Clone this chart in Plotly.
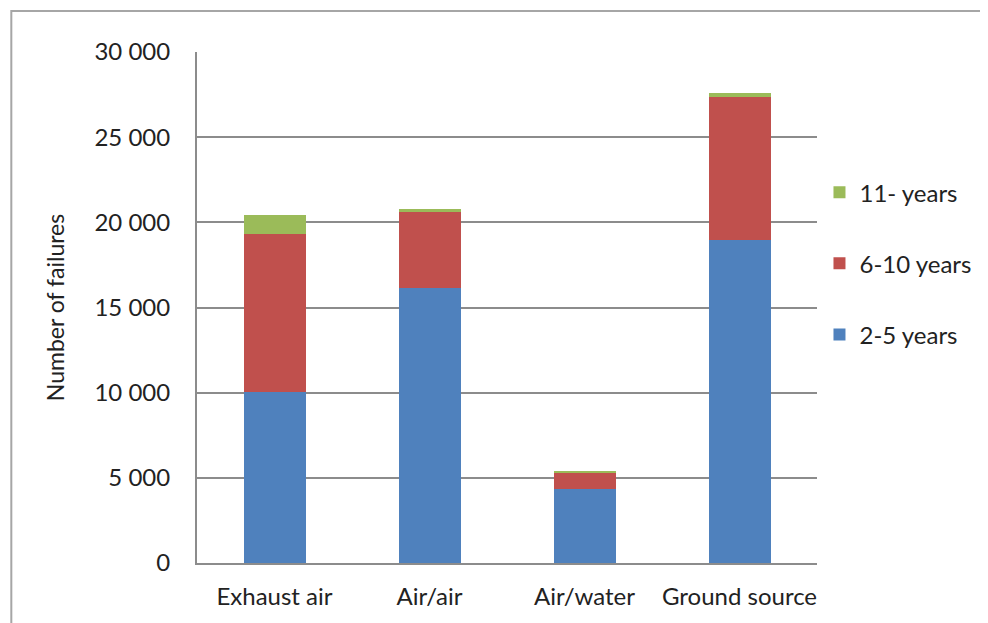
import plotly.graph_objects as go

categories = ["Exhaust air", "Air/air", "Air/water", "Ground source"]
years_2_5 = [10050, 16150, 4350, 18970]
years_6_10 = [9250, 4460, 980, 8380]
years_11 = [1130, 180, 70, 270]
ytick_vals = [0, 5000, 10000, 15000, 20000, 25000, 30000]
ytick_text = ["0", "5 000", "10 000", "15 000", "20 000", "25 000", "30 000"]

FONT = "Lato"
FS = 24
fig = go.Figure()
series = [("2-5 years", years_2_5, "#4F81BD", 3),
          ("6-10 years", years_6_10, "#C0504D", 2),
          ("11- years", years_11, "#9BBB59", 1)]
for name, vals, col, rank in series:
    fig.add_trace(go.Bar(x=categories, y=vals, name=name, marker_color=col,
                         marker_line_width=0, width=0.4, legendgroup=name,
                         legendrank=rank))

fig.update_layout(
    barmode="stack",
    width=980, height=615,
    margin=dict(l=189, r=166, t=44, b=60),
    paper_bgcolor="white", plot_bgcolor="white",
    font=dict(family=FONT, size=FS, color="#222222"),
    showlegend=True,
    legend=dict(x=1.004, y=0.769, xanchor="left", yanchor="top",
                traceorder="grouped", tracegroupgap=37,
                font=dict(family=FONT, size=FS, color="#222222"),
                itemwidth=30),
    xaxis=dict(range=[-0.5, 3.5], showgrid=False, showline=True,
               linecolor="#8c8c8c", linewidth=2, ticks="",
               ticklabelstandoff=11, automargin=False),
    yaxis=dict(range=[0, 30000], tickvals=ytick_vals, ticktext=ytick_text,
               showgrid=True, gridcolor="#8c8c8c", gridwidth=2,
               showline=True, linecolor="#8c8c8c", linewidth=2,
               ticks="", ticklabelstandoff=20, zeroline=False,
               title=dict(text="Number of failures", standoff=23,
                          font=dict(family=FONT, size=FS - 1)),
               automargin=False),
    shapes=[dict(type="rect", xref="paper", yref="paper",
                 x0=-0.2995, x1=2, y0=-1, y1=1.080,
                 line=dict(color="#a6a6a6", width=2), layer="below")],
)
fig.write_html("out.html")
